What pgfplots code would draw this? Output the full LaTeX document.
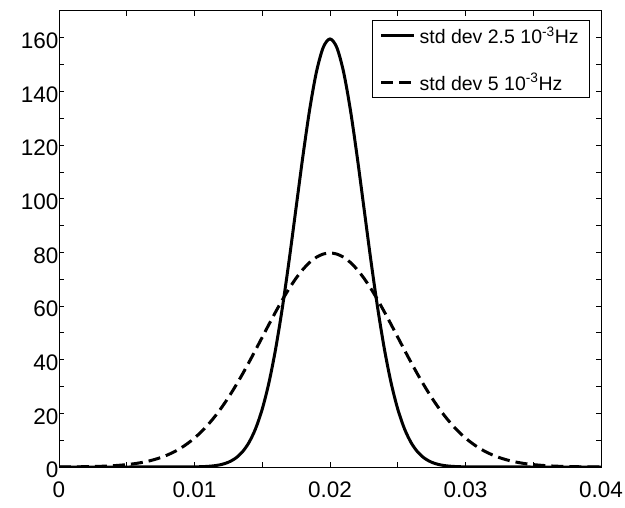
\documentclass[border=0pt]{standalone}
\usepackage{fontspec}
\setmainfont{Liberation Sans}
\usepackage{pgfplots}
\pgfplotsset{compat=1.18}
\begin{document}
\begin{tikzpicture}
\useasboundingbox (-59bp,-41bp) rectangle (566bp,467bp);
\begin{axis}[
  at={(0,0)}, anchor=south west,
  scale only axis,
  width=542bp, height=456bp,
  xmin=0, xmax=0.04, ymin=0, ymax=170,
  xtick={0,0.01,0.02,0.03,0.04},
  xticklabels={0,0.01,0.02,0.03,0.04},
  ytick={0,20,40,60,80,100,120,140,160},
  minor x tick num=1,
  minor y tick num=1,
  scaled x ticks=false,
  tick align=inside,
  major tick length=5bp,
  minor tick length=5bp,
  every tick/.style={black, line width=0.8bp},
  axis line style={line width=1bp},
  tick label style={font=\fontsize{22.5bp}{26bp}\selectfont},
  /pgf/number format/assume math mode=true,
  xticklabel style={yshift=-14bp, inner sep=1bp},
  yticklabel style={xshift=3bp, yshift=-3bp},
  legend style={at={(0.9797,0.980)}, anchor=north east, draw=black, line width=0.8bp,
    font=\fontsize{19.5bp}{23bp}\selectfont, inner xsep=7bp, inner ysep=4bp, row sep=24bp,
    nodes={inner xsep=4bp}},
  legend cell align=left,
  legend image code/.code={\draw[#1] (0bp,0bp) -- (33bp,0bp);},
]
\addplot[black, line width=3bp, smooth] coordinates {
(0,0) (0.005,0) (0.008,0.01) (0.009,0.02) (0.0095,0.05) (0.01,0.05) (0.0105,0.12) (0.011,0.24) (0.0115,0.49) (0.012,0.95) (0.0125,1.77) (0.013,3.17) (0.0135,5.43) (0.014,8.96) (0.0145,14.19) (0.015,21.60) (0.0155,31.58) (0.016,44.37) (0.0165,59.89) (0.017,77.67) (0.0175,96.79) (0.018,115.88) (0.0185,133.29) (0.019,147.31) (0.0195,156.42) (0.02,159.58)
(0.0205,156.42) (0.021,147.31) (0.0215,133.29) (0.022,115.88) (0.0225,96.79) (0.023,77.67) (0.0235,59.89) (0.024,44.37) (0.0245,31.58) (0.025,21.60) (0.0255,14.19) (0.026,8.96) (0.0265,5.43) (0.027,3.17) (0.0275,1.77) (0.028,0.95) (0.0285,0.49) (0.029,0.24) (0.0295,0.12) (0.03,0.05) (0.031,0.02) (0.032,0.01) (0.035,0) (0.04,0)
};
\addlegendentry{std dev 2.5 10\textsuperscript{-3}Hz}
\addplot[black, line width=3bp, dash pattern=on 12bp off 6bp, smooth] coordinates {
(0,0.03) (0.001,0.06) (0.002,0.12) (0.003,0.25) (0.004,0.48) (0.005,0.89) (0.0055,1.19) (0.006,1.58) (0.0065,2.08) (0.007,2.72) (0.0075,3.51) (0.008,4.48) (0.0085,5.66) (0.009,7.09) (0.0095,8.80) (0.01,10.80) (0.0105,13.12) (0.011,15.79) (0.0115,18.81) (0.012,22.18) (0.0125,25.90) (0.013,29.95) (0.0135,34.27) (0.014,38.84) (0.0145,43.57) (0.015,48.39) (0.0155,53.22) (0.016,57.94) (0.0165,62.45) (0.017,66.64) (0.0175,70.41) (0.018,73.65) (0.0185,76.28) (0.019,78.21) (0.0195,79.39) (0.02,79.79)
(0.0205,79.39) (0.021,78.21) (0.0215,76.28) (0.022,73.65) (0.0225,70.41) (0.023,66.64) (0.0235,62.45) (0.024,57.94) (0.0245,53.22) (0.025,48.39) (0.0255,43.57) (0.026,38.84) (0.0265,34.27) (0.027,29.95) (0.0275,25.90) (0.028,22.18) (0.0285,18.81) (0.029,15.79) (0.0295,13.12) (0.03,10.80) (0.0305,8.80) (0.031,7.09) (0.0315,5.66) (0.032,4.48) (0.0325,3.51) (0.033,2.72) (0.0335,2.08) (0.034,1.58) (0.0345,1.19) (0.035,0.89) (0.036,0.48) (0.037,0.25) (0.038,0.12) (0.039,0.06) (0.04,0.03)
};
\addlegendentry{std dev 5 10\textsuperscript{-3}Hz}
\end{axis}
\end{tikzpicture}
\end{document}
